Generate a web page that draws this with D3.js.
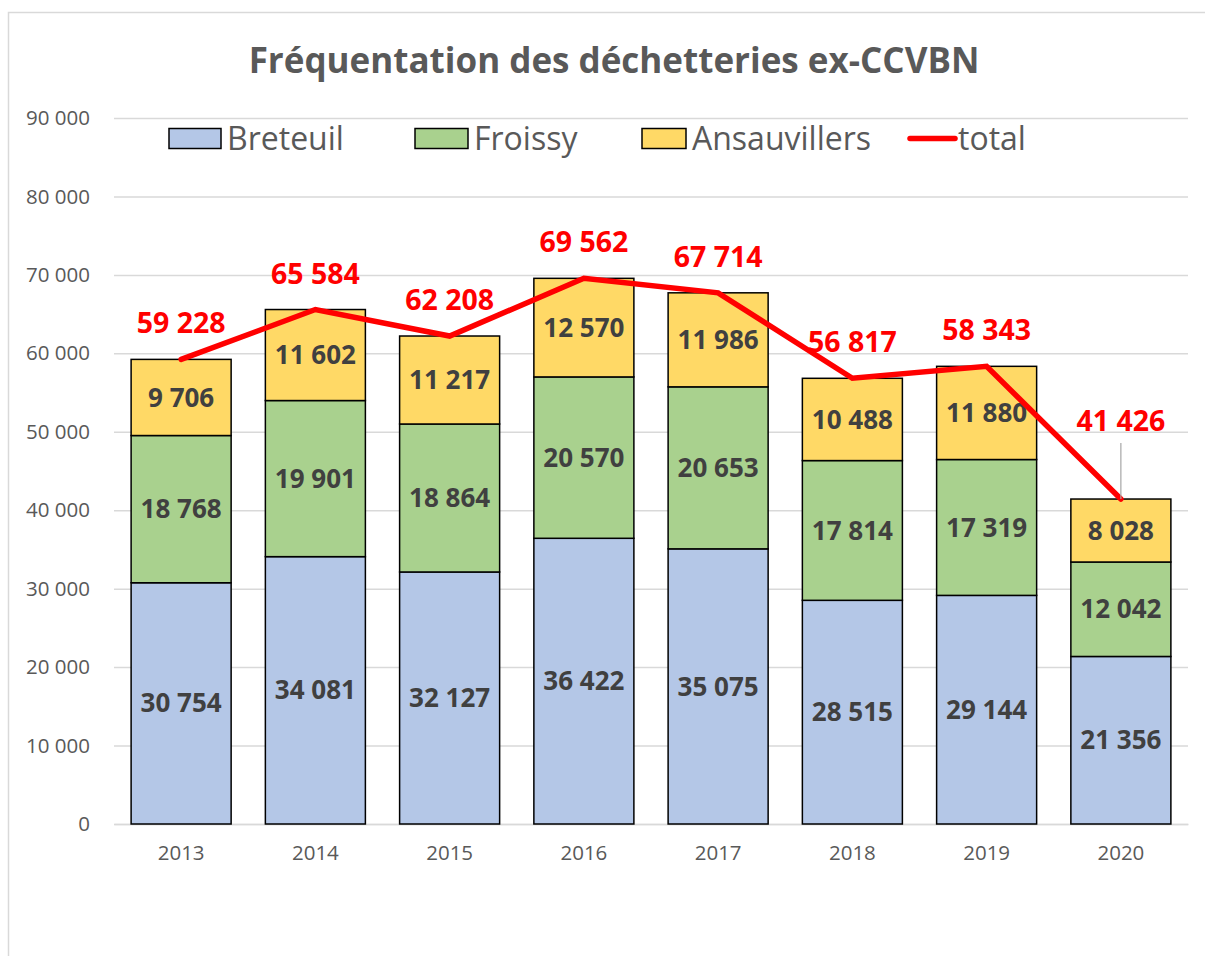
<!DOCTYPE html>
<html><head><meta charset="utf-8">
<script src="https://cdn.jsdelivr.net/npm/d3@7"></script>
<style>body{margin:0;background:#fff;}svg{display:block;}</style>
</head><body>
<svg id="c" width="1205" height="956"></svg>
<script>
const years = ["2013","2014","2015","2016","2017","2018","2019","2020"];
const breteuil = [30754,34081,32127,36422,35075,28515,29144,21356];
const froissy = [18768,19901,18864,20570,20653,17814,17319,12042];
const ansauvillers = [9706,11602,11217,12570,11986,10488,11880,8028];
const total = [59228,65584,62208,69562,67714,56817,58343,41426];
const seriesNames = ["Breteuil","Froissy","Ansauvillers"];
const colors = ["#B4C7E7","#A9D18E","#FFD966"];
const yTicks = [0,10000,20000,30000,40000,50000,60000,70000,80000,90000];
const title = "Fréquentation des déchetteries ex-CCVBN";

const FONT = "'Open Sans', 'Noto Sans', sans-serif";
const svg = d3.select("#c");
const fmt = v => d3.format(",")(v).replace(/,/g, " ");

// outer border
svg.append("rect").attr("x",8.5).attr("y",12.5).attr("width",1210).attr("height",960)
  .attr("fill","none").attr("stroke","#d9d9d9").attr("stroke-width",1.5);

const x = d3.scaleBand().domain(years).range([114,1188]).paddingInner(0.255).paddingOuter(0.1275);
const y = d3.scaleLinear().domain([0,90000]).range([824,118]);

// title
svg.append("text").attr("x",614).attr("y",73).attr("text-anchor","middle")
  .attr("font-family",FONT).attr("font-weight","bold").attr("font-size",35)
  .attr("fill","#595959").text(title);

// grid
const gAxis = svg.append("g").attr("transform","translate(114,0)")
  .call(d3.axisLeft(y).tickValues(yTicks).tickSize(-1074).tickFormat(fmt));
gAxis.select(".domain").remove();
gAxis.selectAll(".tick line").attr("stroke","#d9d9d9").attr("stroke-width",1.5);
gAxis.selectAll(".tick text").attr("x",-24).attr("font-family",FONT).attr("font-size",20.5).attr("fill","#595959");

// x axis
const gx = svg.append("g").attr("transform","translate(0,824)")
  .call(d3.axisBottom(x).tickSize(0).tickPadding(21));
gx.select(".domain").attr("stroke","#d9d9d9").attr("stroke-width",1.5);
gx.selectAll(".tick text").attr("font-family",FONT).attr("font-size",20.5).attr("fill","#595959");

// stacked data
const rows = years.map((yr,i)=>({year:yr, Breteuil:breteuil[i], Froissy:froissy[i], Ansauvillers:ansauvillers[i]}));
const stack = d3.stack().keys(seriesNames)(rows);

const layers = svg.append("g").selectAll("g").data(stack).join("g").attr("fill",(d,i)=>colors[i]);
layers.selectAll("rect").data(d=>d).join("rect")
  .attr("x",d=>x(d.data.year)).attr("width",x.bandwidth())
  .attr("y",d=>y(d[1])).attr("height",d=>y(d[0])-y(d[1]))
  .attr("stroke","#000").attr("stroke-width",1.5);

// segment labels
stack.forEach(layer=>{
  svg.append("g").selectAll("text").data(layer).join("text")
    .attr("x",d=>x(d.data.year)+x.bandwidth()/2)
    .attr("y",d=>(y(d[0])+y(d[1]))/2)
    .attr("dy","0.35em").attr("text-anchor","middle")
    .attr("font-family",FONT).attr("font-weight","bold").attr("font-size",26)
    .attr("fill","#404040").text(d=>fmt(d[1]-d[0]));
});

// total line
const line = d3.line().x((d,i)=>x(years[i])+x.bandwidth()/2).y(d=>y(d));
svg.append("path").datum(total).attr("d",line).attr("fill","none")
  .attr("stroke","#FF0000").attr("stroke-width",5.5).attr("stroke-linejoin","miter").attr("stroke-linecap","round");

// total labels
const labelOffset = total.map((v,i)=> i===total.length-1 ? 68 : 26);
const lastI = total.length-1;
svg.append("line")
  .attr("x1",x(years[lastI])+x.bandwidth()/2).attr("x2",x(years[lastI])+x.bandwidth()/2)
  .attr("y1",y(total[lastI])-56).attr("y2",y(total[lastI]))
  .attr("stroke","#a6a6a6").attr("stroke-width",1.2);
svg.append("g").selectAll("text").data(total).join("text")
  .attr("x",(d,i)=>x(years[i])+x.bandwidth()/2)
  .attr("y",(d,i)=>y(d)-labelOffset[i])
  .attr("text-anchor","middle")
  .attr("font-family",FONT).attr("font-weight","bold").attr("font-size",28.5)
  .attr("fill","#FF0000").text(d=>fmt(d));

// legend
const legendItems = [
  {name:"Breteuil", sx:169, tx:227, type:"rect", c:colors[0]},
  {name:"Froissy", sx:415, tx:474, type:"rect", c:colors[1]},
  {name:"Ansauvillers", sx:642, tx:692, type:"rect", c:colors[2]},
  {name:"total", sx:908, tx:958, type:"line", c:"#FF0000"}
];
const lg = svg.append("g");
legendItems.forEach(it=>{
  if(it.type==="rect"){
    lg.append("rect").attr("x",it.sx).attr("y",128.5).attr("width",it.tx-it.sx-6).attr("height",20)
      .attr("fill",it.c).attr("stroke","#000").attr("stroke-width",1.5);
  } else {
    lg.append("line").attr("x1",it.sx+2).attr("x2",it.tx-3).attr("y1",138.5).attr("y2",138.5)
      .attr("stroke",it.c).attr("stroke-width",5.5).attr("stroke-linecap","round");
  }
  lg.append("text").attr("x",it.tx).attr("y",138.5).attr("dy","0.35em")
    .attr("font-family",FONT).attr("font-size",32).attr("fill","#595959").text(it.name);
});
</script>
</body></html>
